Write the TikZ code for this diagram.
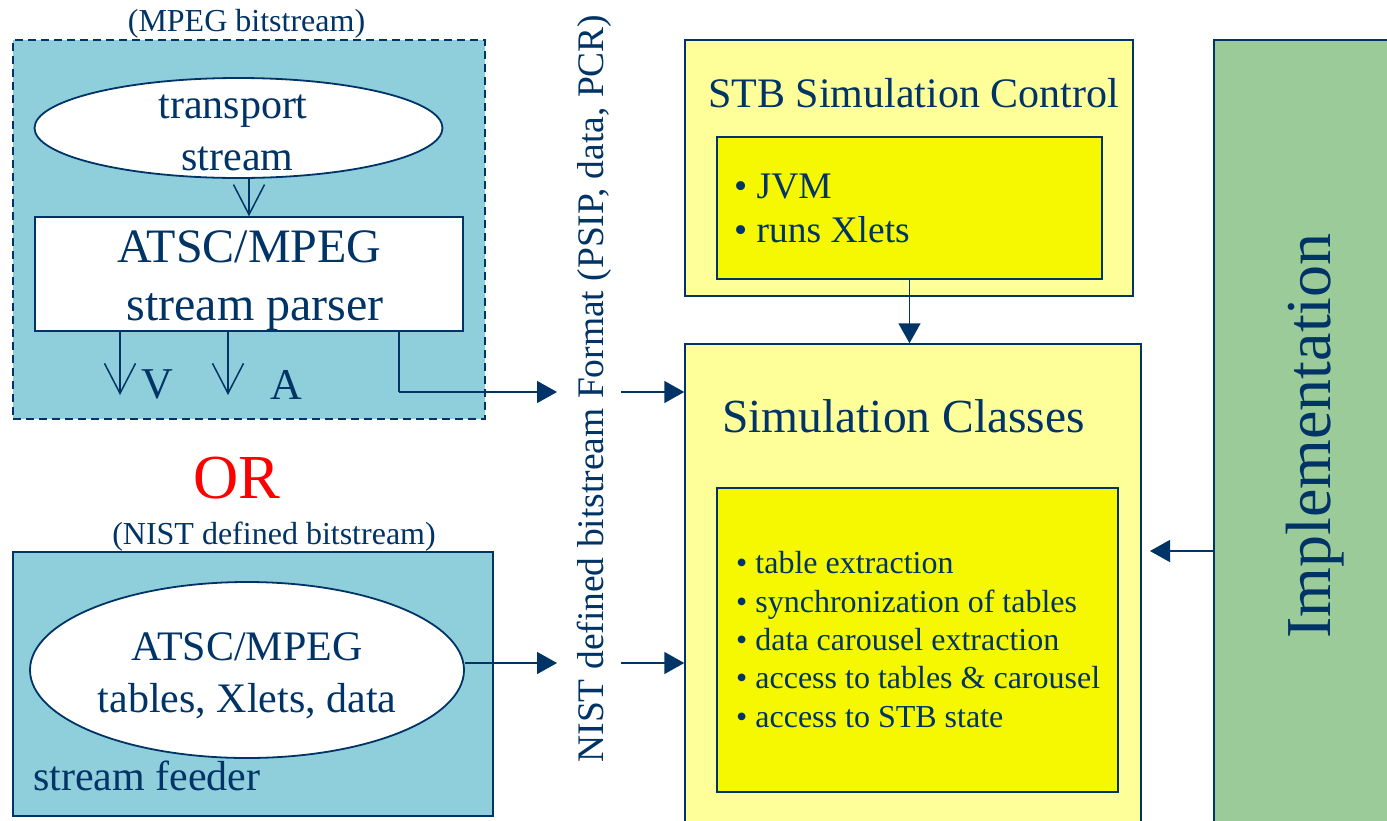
\documentclass[tikz,border=0pt]{standalone}
\usepackage{fontspec}
\setmainfont{Liberation Serif}
\usetikzlibrary{shapes.geometric,arrows.meta}
\definecolor{cnavy}{HTML}{003366}
\definecolor{cteal}{HTML}{8ECFDB}
\definecolor{cpale}{HTML}{FFFF99}
\definecolor{cyel}{HTML}{F5F800}
\definecolor{cgreen}{HTML}{9BCB99}
\definecolor{cred}{HTML}{FF0000}
\newcommand\fsz[1]{\fontsize{#1pt}{#1pt}\selectfont}
\begin{document}
\begin{tikzpicture}[x=1pt,y=-1pt,
  box/.style={draw=cnavy,line width=1.5pt,rectangle,inner sep=0pt},
  txt/.style={text=cnavy,inner sep=0pt,anchor=base},
  txtl/.style={text=cnavy,inner sep=0pt,anchor=base west},
  conn/.style={draw=cnavy,line width=1.5pt},
  openarr/.style={conn,-{Straight Barb[length=30pt,width=31pt]}},
  fillarr/.style={conn,-{Triangle[length=20pt,width=22pt]}}]
\clip (0,0) rectangle (1387,820);
\fill[white] (0,0) rectangle (1387,820);
% --- MPEG bitstream group
\node[box,dashed,dash pattern=on 8pt off 5pt,fill=cteal,minimum width=472pt,minimum height=379pt] (mpeg) at (249,229.5) {};
\node[txt,font=\fsz{32}] (mpegcap) at (246.5,31) {(MPEG bitstream)};
\node[draw=cnavy,line width=1.8pt,ellipse,fill=white,inner sep=0pt,minimum width=408pt,minimum height=100pt] (ts) at (238.5,128) {};
\node[txt,font=\fsz{42}] (tsa) at (233,118) {transport};
\node[txt,font=\fsz{42}] (tsb) at (237.5,170) {stream};
\node[box,fill=white,minimum width=428pt,minimum height=114pt] (parser) at (249,274) {};
\node[txt,font=\fsz{48}] (pa) at (249.5,262) {ATSC/MPEG};
\node[txt,font=\fsz{48}] (pb) at (255,320) {stream parser};
\draw[openarr] (parser.north |- ts.south) -- (parser.north);
\coordinate (vend) at (120,395);
\coordinate (aend) at (228,395);
\draw[openarr] (vend |- parser.south) -- (vend);
\draw[openarr] (aend |- parser.south) -- (aend);
\node[txt,font=\fsz{44}] (vlab) at (157,398) {V};
\node[txt,font=\fsz{44}] (alab) at (286,399) {A};
\coordinate (c1) at (399,392);
\coordinate (t1) at (557,392);
\draw[conn] (c1 |- parser.south) -- (c1);
\draw[fillarr] (c1) -- (t1);
% --- OR
\node[inner sep=0pt,anchor=base,text=cred,font=\fsz{62.6}] (orlab) at (237,498) {OR};
% --- NIST bitstream group
\node[txt,font=\fsz{32}] (nistcap) at (274,544) {(NIST defined bitstream)};
\node[box,fill=cteal,minimum width=480pt,minimum height=264pt] (feeder) at (253,684) {};
\node[draw=cnavy,line width=1.8pt,ellipse,fill=white,inner sep=0pt,minimum width=434pt,minimum height=176pt] (fd) at (247,670) {};
\node[txt,font=\fsz{42}] (fda) at (247,660) {ATSC/MPEG};
\node[txt,font=\fsz{42}] (fdb) at (247,712) {tables, Xlets, data};
\node[txtl,font=\fsz{42}] (sflab) at (33,790) {stream feeder};
\coordinate (t2) at (557,663);
\draw[fillarr] (t2 -| fd.east) -- (t2);
% --- vertical format text
\node[txt,rotate=90,font=\fsz{37.5}] (fmt) at (603,388.5) {NIST defined bitstream Format (PSIP, data, PCR)};
% --- STB Simulation Control
\node[box,fill=cpale,minimum width=448pt,minimum height=256pt] (ctrl) at (909,168) {};
\node[txt,font=\fsz{42}] (ctrltitle) at (913.5,107) {STB Simulation Control};
\node[box,fill=cyel,minimum width=385pt,minimum height=142pt] (ctrlin) at (909.5,208) {};
\node[txtl,font=\fsz{37.5}] (j1) at (734,198) {• JVM};
\node[txtl,font=\fsz{37.5}] (j2) at (734,242) {• runs Xlets};
% --- Simulation Classes
\node[box,fill=cpale,minimum width=456pt,minimum height=486pt] (simc) at (913,587) {};
\node[txt,font=\fsz{47.5}] (simtitle) at (903.5,432) {Simulation Classes};
\node[box,fill=cyel,minimum width=401pt,minimum height=304pt] (simin) at (917.5,640) {};
\node[txtl,font=\fsz{32}] (b1) at (736,573) {• table extraction};
\node[txtl,font=\fsz{32}] (b2) at (736,612) {• synchronization of tables};
\node[txtl,font=\fsz{32}] (b3) at (736,650) {• data carousel extraction};
\node[txtl,font=\fsz{32}] (b4) at (736,688) {• access to tables \& carousel};
\node[txtl,font=\fsz{32}] (b5) at (736,727) {• access to STB state};
\draw[fillarr] (ctrlin.south) -- (ctrlin.south |- simc.north);
\coordinate (s1) at (621,392);
\coordinate (s2) at (621,663);
\draw[fillarr] (s1) -- (s1 -| simc.west);
\draw[fillarr] (s2) -- (s2 -| simc.west);
% --- Implementation
\node[box,fill=cgreen,minimum width=186pt,minimum height=790pt] (impl) at (1307,435) {};
\node[txt,rotate=90,font=\fsz{64}] (impllab) at (1330,436) {Implementation};
\coordinate (t3) at (1150,551);
\draw[fillarr] (t3 -| impl.west) -- (t3);
\end{tikzpicture}
\end{document}
